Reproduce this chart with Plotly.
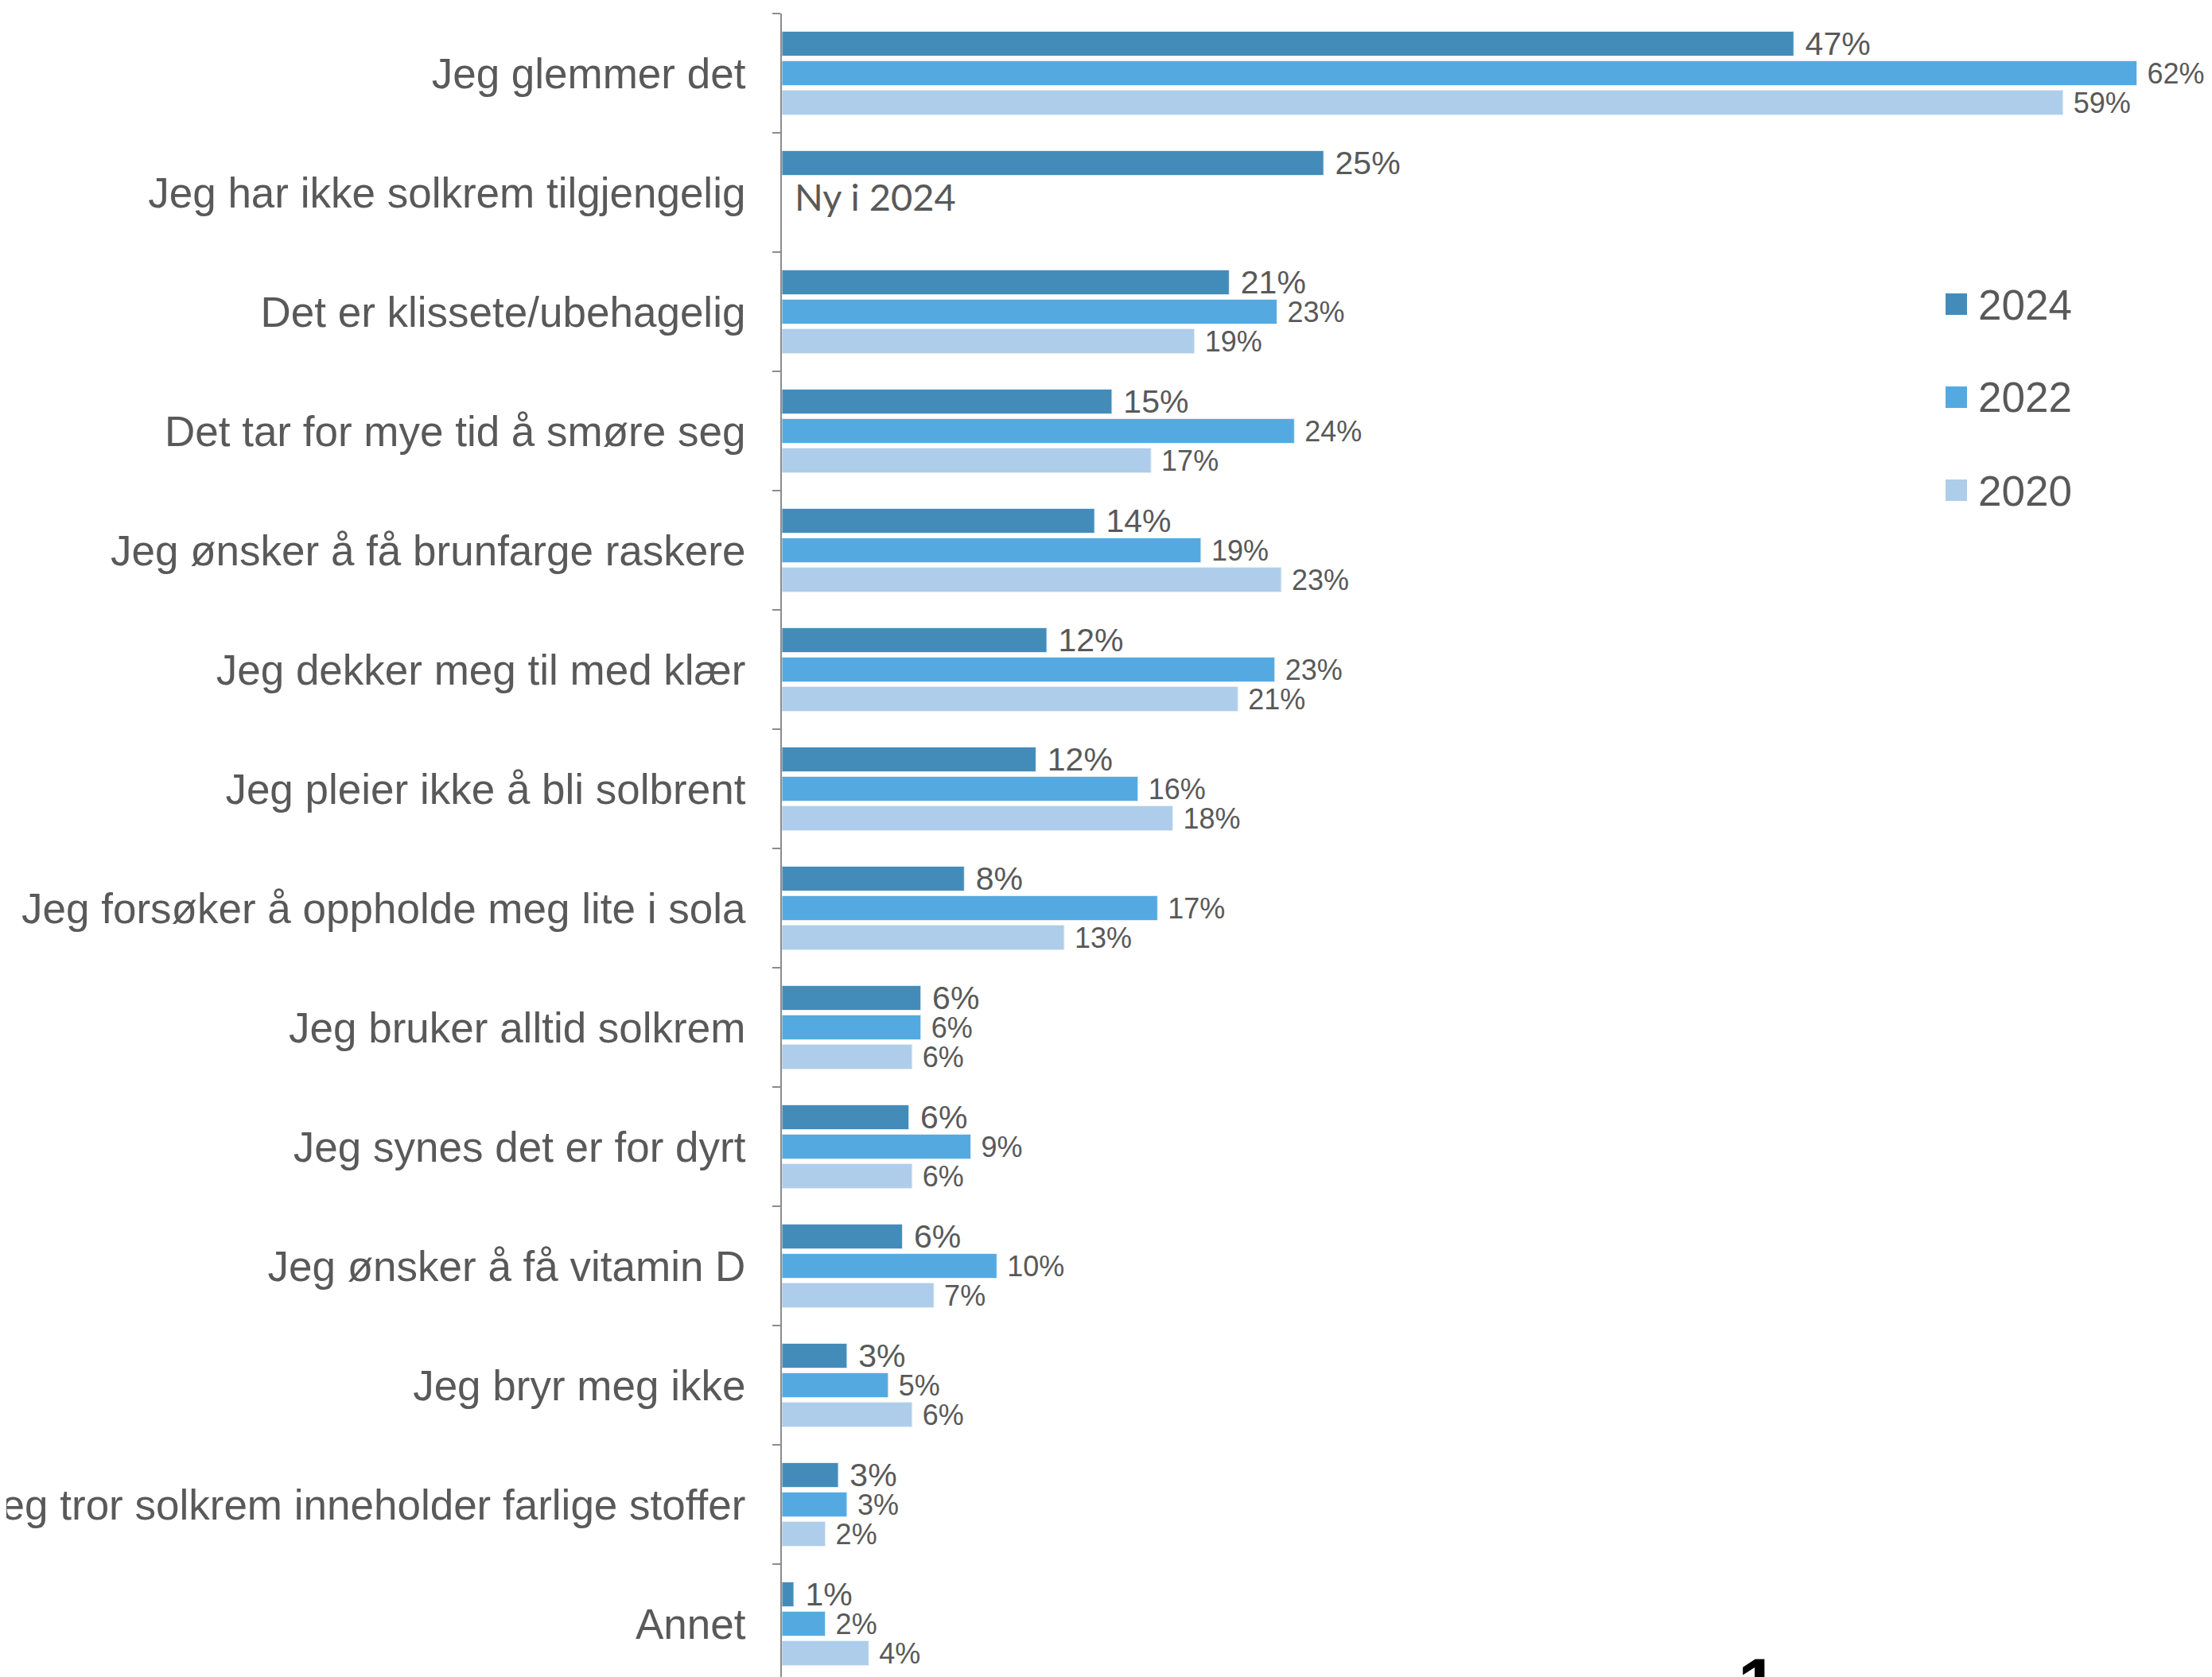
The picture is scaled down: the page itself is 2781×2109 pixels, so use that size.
import plotly.graph_objects as go

# categories top to bottom
categories = [
    "Jeg glemmer det",
    "Jeg har ikke solkrem tilgjengelig",
    "Det er klissete/ubehagelig",
    "Det tar for mye tid å smøre seg",
    "Jeg ønsker å få brunfarge raskere",
    "Jeg dekker meg til med klær",
    "Jeg pleier ikke å bli solbrent",
    "Jeg forsøker å oppholde meg lite i sola",
    "Jeg bruker alltid solkrem",
    "Jeg synes det er for dyrt",
    "Jeg ønsker å få vitamin D",
    "Jeg bryr meg ikke",
    "Jeg tror solkrem inneholder farlige stoffer",
    "Annet",
]

# values in percent
v2024 = [46.6, 24.95, 20.6, 15.2, 14.4, 12.2, 11.7, 8.4, 6.4, 5.85, 5.55, 3.0, 2.6, 0.55]
v2022 = [62.4, None, 22.8, 23.6, 19.3, 22.7, 16.4, 17.3, 6.4, 8.7, 9.9, 4.9, 3.0, 2.0]
v2020 = [59.0, None, 19.0, 17.0, 23.0, 21.0, 18.0, 13.0, 6.0, 6.0, 7.0, 6.0, 2.0, 4.0]

years = ["2024", "2022", "2020"]
colors = ["#438cba", "#54aae0", "#aecdeb"]
label_sizes = [41, 36, 36]

# the page body adds an 8px margin, so the figure sits 8px in from the window corner
OFF = 8
W, H = 2781 - OFF, 2109 - OFF
ML, MT = 983 - OFF, 17 - OFF
GREY = "#595959"
FONT = "Liberation Sans, Arial, sans-serif"

fig = go.Figure()
for name, vals, col, fs in zip(years, [v2024, v2022, v2020], colors, label_sizes):
    fig.add_trace(go.Bar(
        y=categories,
        x=vals,
        name=name,
        orientation="h",
        marker=dict(color=col, line=dict(color="#e4eef6", width=1)),
        texttemplate=" %{x:.0f}%",
        textposition="outside",
        constraintext="none",
        textfont=dict(size=fs, color=GREY, family=FONT),
        cliponaxis=False,
        showlegend=False,
    ))

plot_w = W - ML
plot_h = H - MT


def px_x(px):
    # window pixel -> paper x
    return (px - OFF - ML) / plot_w


def px_y(px):
    # window pixel -> paper y
    return 1 - (px - OFF - MT) / plot_h


# legend: coloured squares with year labels
legend_y = [383, 500, 617]
for name, col, yc in zip(years, colors, legend_y):
    fig.add_shape(
        type="rect", xref="paper", yref="paper",
        x0=px_x(2446), x1=px_x(2473), y0=px_y(yc + 13), y1=px_y(yc - 14),
        fillcolor=col, line=dict(width=0),
    )
    fig.add_annotation(
        x=px_x(2485), y=px_y(yc), xref="paper", yref="paper",
        text=name, showarrow=False, xanchor="left", yanchor="middle",
        font=dict(size=53, color=GREY, family=FONT),
    )

# note for the new category
fig.add_annotation(
    x=0, y=categories[1], xref="x", yref="y",
    text="Ny i 2024", showarrow=False,
    xanchor="left", yanchor="middle", xshift=14, yshift=-5,
    font=dict(family="Lato, Open Sans, sans-serif", size=47, color=GREY),
)

# cut-off page number at the bottom
fig.add_annotation(
    x=px_x(2210), y=px_y(2066),
    xref="paper", yref="paper", text="<b>1</b>", showarrow=False,
    xanchor="center", yanchor="top",
    font=dict(family=FONT, size=90, color="black"),
)

px_per_pct = 27.3
band = 150
fig.update_layout(
    width=W, height=H,
    margin=dict(l=ML, r=0, t=MT, b=0, autoexpand=False),
    plot_bgcolor="white", paper_bgcolor="white",
    barmode="group", bargap=0.26, bargroupgap=0.16,
    font=dict(family=FONT, color=GREY),
    showlegend=False,
    xaxis=dict(visible=False, range=[0, plot_w / px_per_pct], automargin=False),
    yaxis=dict(
        range=[plot_h / band - 0.5, -0.5],
        automargin=False,
        showline=True, linecolor="#8c8c8c", linewidth=2,
        ticks="outside", tickson="boundaries", ticklen=10,
        tickcolor="#8c8c8c", tickwidth=2,
        tickfont=dict(size=53, color=GREY, family=FONT),
        ticklabelstandoff=33,
        showgrid=False, zeroline=False,
    ),
)

fig.write_html("out.html")
